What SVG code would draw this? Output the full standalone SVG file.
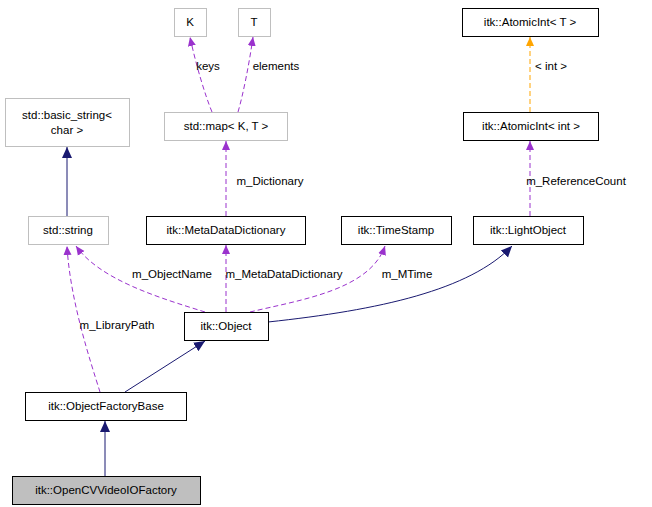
<svg xmlns="http://www.w3.org/2000/svg" width="652" height="507" viewBox="0 0 652 507">
<style>
text{font-family:"Liberation Sans",Arial,sans-serif;font-size:10.5px;fill:#000}
g[id] > text{font-size:11.5px}
.n{fill:#fff;stroke:#000;stroke-width:1}
.g{fill:#fff;stroke:#bfbfbf;stroke-width:1}
.c{text-anchor:middle}
.p{fill:none;stroke:#9a32cd;stroke-dasharray:5,3}
.o{fill:none;stroke:#ffa500;stroke-dasharray:5,3}
.b{fill:none;stroke:#191970}
</style>
<defs>
<marker id="mp" markerWidth="10" markerHeight="10" refX="9" refY="5" orient="auto" markerUnits="userSpaceOnUse"><path d="M0,1 L9,5 L0,9 z" fill="#9a32cd"/></marker>
<marker id="mo" markerWidth="10" markerHeight="10" refX="9" refY="5" orient="auto" markerUnits="userSpaceOnUse"><path d="M0,1 L9,5 L0,9 z" fill="#ffa500"/></marker>
<marker id="mb" markerWidth="12" markerHeight="12" refX="11" refY="6" orient="auto" markerUnits="userSpaceOnUse"><path d="M0,1 L11,6 L0,11 z" fill="#191970"/></marker>
</defs>
<g id="connectors">
<path class="p" d="M212,112 C205,95 196,65 190,37" marker-end="url(#mp)"/>
<text x="208" y="70" class="c">keys</text>
<path class="p" d="M238,112 C243,95 249,65 253,37" marker-end="url(#mp)"/>
<text x="276" y="70" class="c">elements</text>
<path class="o" d="M530,112 L530,37" marker-end="url(#mo)"/>
<text x="551" y="70" class="c">&lt; int &gt;</text>
<path class="b" d="M67,216 L67,147" marker-end="url(#mb)"/>
<path class="p" d="M226,216 L226,141" marker-end="url(#mp)"/>
<text x="270" y="185" class="c">m_Dictionary</text>
<path class="p" d="M530,216 L530,141" marker-end="url(#mp)"/>
<text x="576" y="185" class="c">m_ReferenceCount</text>
<path class="p" d="M205,312 C160,298 100,280 76,246" marker-end="url(#mp)"/>
<text x="172" y="278" class="c">m_ObjectName</text>
<path class="p" d="M226,312 L226,245" marker-end="url(#mp)"/>
<text x="284" y="278" class="c">m_MetaDataDictionary</text>
<path class="p" d="M250,312 C300,300 370,290 385,246" marker-end="url(#mp)"/>
<text x="407" y="278" class="c">m_MTime</text>
<path class="b" d="M268,322 C380,310 470,290 512,246" marker-end="url(#mb)"/>
<path class="p" d="M100,392 C90,360 70,300 67,246" marker-end="url(#mp)"/>
<text x="117" y="329" class="c">m_LibraryPath</text>
<path class="b" d="M125,392 L205,341" marker-end="url(#mb)"/>
<path class="b" d="M105,476 L105,421" marker-end="url(#mb)"/>
</g>
<g id="K"><rect class="g" x="174.5" y="8.5" width="32" height="28"/><text x="190" y="26" class="c">K</text></g>
<g id="T"><rect class="g" x="238.5" y="8.5" width="32" height="28"/><text x="254" y="26" class="c">T</text></g>
<g id="AtomicIntT"><rect class="n" x="462.5" y="8.5" width="136" height="28"/><text x="530" y="26" class="c">itk::AtomicInt&lt; T &gt;</text></g>
<g id="basic_string"><rect class="g" x="5.5" y="98.5" width="124" height="48"/><text x="67" y="119" class="c">std::basic_string&lt;</text><text x="67" y="134" class="c">char &gt;</text></g>
<g id="map"><rect class="g" x="164.5" y="112.5" width="123" height="28"/><text x="226" y="130" class="c">std::map&lt; K, T &gt;</text></g>
<g id="AtomicIntInt"><rect class="n" x="463.5" y="112.5" width="135" height="28"/><text x="531" y="130" class="c">itk::AtomicInt&lt; int &gt;</text></g>
<g id="string"><rect class="g" x="28.5" y="216.5" width="80" height="28"/><text x="68" y="234" class="c">std::string</text></g>
<g id="MetaDataDictionary"><rect class="n" x="146.5" y="216.5" width="159" height="28"/><text x="226" y="234" class="c">itk::MetaDataDictionary</text></g>
<g id="TimeStamp"><rect class="n" x="341.5" y="216.5" width="110" height="28"/><text x="396" y="234" class="c">itk::TimeStamp</text></g>
<g id="LightObject"><rect class="n" x="473.5" y="216.5" width="110" height="28"/><text x="528" y="234" class="c">itk::LightObject</text></g>
<g id="Object"><rect class="n" x="184.5" y="312.5" width="84" height="28"/><text x="226" y="330" class="c">itk::Object</text></g>
<g id="ObjectFactoryBase"><rect class="n" x="25.5" y="392.5" width="161" height="28"/><text x="106" y="410" class="c">itk::ObjectFactoryBase</text></g>
<g id="OpenCVVideoIOFactory"><rect x="12.5" y="476.5" width="188" height="28" fill="#bfbfbf" stroke="#000"/><text x="106" y="494" class="c">itk::OpenCVVideoIOFactory</text></g>
</svg>
